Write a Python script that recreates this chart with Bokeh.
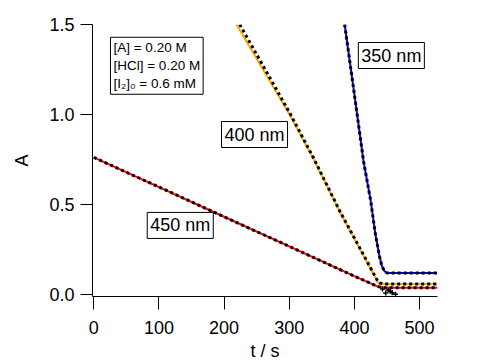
from bokeh.plotting import figure
from bokeh.models import Label, Range1d, FixedTicker, PrintfTickFormatter
from bokeh.embed import file_html
from bokeh.resources import INLINE

# ---- data ----
# 450 nm (red)
t_450 = [0, 100, 200, 300, 400, 436, 445, 527]
a_450 = [0.762, 0.597, 0.432, 0.267, 0.102, 0.044, 0.038, 0.038]
fit_t_450 = [0, 100, 200, 300, 400, 436, 445, 527]
fit_a_450 = [0.762, 0.597, 0.432, 0.267, 0.102, 0.044, 0.038, 0.038]

# 400 nm (orange)
t_400 = [219, 302, 337, 378, 437, 445, 527]
a_400 = [1.50, 0.99, 0.755, 0.457, 0.062, 0.058, 0.058]
fit_t_400 = [224, 302, 337, 378, 437, 445, 527]
fit_a_400 = [1.50, 1.00, 0.76, 0.46, 0.066, 0.058, 0.058]

# 350 nm (blue)
t_350 = [385, 400, 414, 425, 432, 438, 442, 446, 450, 527]
a_350 = [1.50, 1.11, 0.74, 0.52, 0.34, 0.22, 0.16, 0.13, 0.12, 0.12]

# scattered points past the end point
cross_t = [443, 448, 452, 455, 458, 463]
cross_a = [0.030, 0.008, 0.025, 0.018, 0.010, 0.002]

x_ticks = [0, 100, 200, 300, 400, 500]
y_ticks = [0.0, 0.5, 1.0, 1.5]

FONT = "Liberation Sans"

p = figure(width=473, height=363, output_backend="svg", toolbar_location=None,
           x_range=Range1d(-2, 527.5), y_range=Range1d(-0.011, 1.5),
           min_border_left=92, min_border_right=36, min_border_top=24,
           min_border_bottom=67)
p.outline_line_color = None
p.grid.visible = False
p.background_fill_color = "white"
p.border_fill_color = "white"

for ax in (p.xaxis[0], p.yaxis[0]):
    ax.axis_line_color = "black"
    ax.major_tick_line_color = "black"
    ax.major_tick_in = 0
    ax.major_tick_out = 12
    ax.minor_tick_line_color = None
    ax.major_label_text_font = FONT
    ax.major_label_text_font_size = "18px"
    ax.major_label_text_color = "black"
    ax.axis_label_text_font = FONT
    ax.axis_label_text_font_size = "18px"
    ax.axis_label_text_font_style = "normal"
    ax.axis_label_text_color = "black"

p.xaxis.ticker = FixedTicker(ticks=x_ticks)
p.yaxis.ticker = FixedTicker(ticks=y_ticks)
p.yaxis.formatter = PrintfTickFormatter(format="%.1f")
p.xaxis.axis_label = "t / s"
p.yaxis.axis_label = "A"
p.xaxis.major_tick_out = 13
p.xaxis.major_label_standoff = 11
p.yaxis.major_label_standoff = 6
p.xaxis.axis_label_standoff = 4
p.yaxis.axis_label_standoff = 14

# coloured data lines
p.line(t_450, a_450, line_color="#FF0000", line_width=2)
p.line(t_400, a_400, line_color="#FFAA00", line_width=2)
p.line(t_350, a_350, line_color="#0000FF", line_width=2)

# black dotted overlays
p.line(fit_t_450, fit_a_450, line_color="black", line_width=3, line_dash="3 3")
p.line(fit_t_400, fit_a_400, line_color="black", line_width=3, line_dash="3 3")
p.line(t_350, a_350, line_color="black", line_width=3, line_dash="3 3")
p.scatter(cross_t, cross_a, marker="cross", size=5, line_color="black", line_width=1.5)

def box(x, y, text, size):
    p.add_layout(Label(x=x, y=y, text=text, text_align="left", text_baseline="top",
                       text_font=FONT, text_font_size=size, text_color="black",
                       border_line_color="black", border_line_width=1,
                       background_fill_color="white", padding=3))

box(406, 1.40, "350 nm", "18px")
box(196, 0.961, "400 nm", "18px")
box(82, 0.456, "450 nm", "18px")
box(25.6, 1.429, "[A] = 0.20 M\n[HCl] = 0.20 M\n[I\u2082]\u2080 = 0.6 mM", "13.5px")

open("out.html", "w").write(file_html(p, INLINE))
